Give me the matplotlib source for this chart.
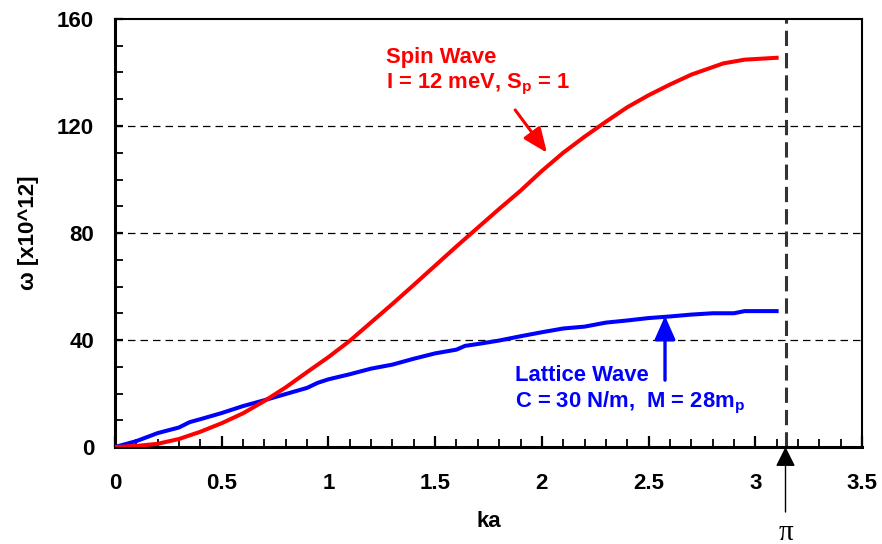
import numpy as np
import matplotlib
matplotlib.use("Agg")
import matplotlib.pyplot as plt
from matplotlib.ticker import MultipleLocator

plt.rcParams['font.family'] = ['Liberation Sans', 'DejaVu Sans']
plt.rcParams['font.weight'] = 'bold'
plt.rcParams['mathtext.fontset'] = 'custom'
plt.rcParams['mathtext.rm'] = 'Liberation Sans:bold'
plt.rcParams['mathtext.bf'] = 'Liberation Sans:bold'

# ---- data ----
spin_ka = [0, 0.1, 0.2, 0.3, 0.4, 0.5, 0.6, 0.7, 0.8, 0.9, 1.0, 1.1, 1.2, 1.3,
           1.4, 1.5, 1.6, 1.7, 1.8, 1.9, 2.0, 2.1, 2.2, 2.3, 2.4, 2.5, 2.6,
           2.7, 2.85, 2.95, 3.1]
spin_w = [0, 0.4, 1.2, 3.0, 5.7, 8.9, 12.6, 17.2, 22.3, 28.0, 33.6, 39.7,
          46.6, 53.5, 60.6, 67.8, 75.0, 82.0, 89.0, 95.8, 103.2, 110.0,
          116.0, 121.6, 127.0, 131.5, 135.5, 139.2, 143.4, 144.8, 145.5]

latt_ka = [0, 0.1, 0.2, 0.3, 0.35, 0.4, 0.5, 0.6, 0.7, 0.8, 0.9, 0.95, 1.0,
           1.1, 1.2, 1.3, 1.4, 1.5, 1.6, 1.64, 1.7, 1.8, 1.9, 2.0, 2.1, 2.2,
           2.3, 2.4, 2.5, 2.6, 2.7, 2.8, 2.9, 2.95, 3.1]
latt_w = [0, 2.2, 5.2, 7.3, 9.3, 10.4, 12.7, 15.3, 17.5, 19.8, 22.1, 24.0,
          25.3, 27.2, 29.3, 30.8, 33.0, 35.0, 36.4, 37.8, 38.5, 39.8, 41.4,
          42.9, 44.3, 45.0, 46.5, 47.3, 48.2, 48.8, 49.5, 50.0, 50.0, 50.8,
          50.8]

xticks = [0, 0.5, 1, 1.5, 2, 2.5, 3, 3.5]
xticklabels = ['0', '0.5', '1', '1.5', '2', '2.5', '3', '3.5']
yticks = [0, 40, 80, 120, 160]
yticklabels = ['0', '40', '80', '120', '160']
pi_pos = np.pi

fig = plt.figure(figsize=(8.82, 5.44), dpi=100)
ax = fig.add_axes([115/882, 1-447/544, (862-115)/882, (447-19)/544])

ax.set_xlim(0, 3.5)
ax.set_ylim(0, 160)

for y in [40, 80, 120]:
    ax.axhline(y, color='black', lw=0.9, ls=(0, (6, 4)), zorder=1)

ax.axvline(pi_pos, color='#333333', lw=2.2, ls=(0, (5, 2.3)), zorder=2,
           clip_on=False)

ax.plot(spin_ka, spin_w, color='#ff0000', lw=2.9, zorder=4)
ax.plot(latt_ka, latt_w, color='#0000ff', lw=2.9, zorder=3)

ax.set_xticks(xticks)
ax.set_xticklabels(xticklabels)
ax.set_yticks(yticks)
ax.set_yticklabels(yticklabels)
ax.xaxis.set_minor_locator(MultipleLocator(0.1))
ax.yaxis.set_minor_locator(MultipleLocator(10))

ax.tick_params(axis='x', which='major', direction='in', length=8, width=1.6,
               labelsize=16, pad=19)
ax.tick_params(axis='x', which='minor', direction='in', length=5.5, width=1.3)
ax.tick_params(axis='y', which='major', direction='in', length=6, width=1.6,
               labelsize=16, pad=15)
ax.tick_params(axis='y', which='minor', direction='in', length=6, width=1.3)

for s in ['left', 'bottom']:
    ax.spines[s].set_linewidth(2.2)
for s in ['top', 'right']:
    ax.spines[s].set_linewidth(1.5)

ax.set_xlabel('ka', fontsize=16, fontweight='bold', labelpad=12)
ax.set_ylabel('ω [x10^12]', fontsize=16, fontweight='bold', labelpad=13)

# Spin wave annotation
ax.text(1.27, 145.5, 'Spin Wave', color='#ff0000', fontsize=15.8,
        fontweight='bold', ha='left', va='center')
ax.text(1.27, 135.5, r'I = 12 meV, S$_\mathregular{p}$ = 1', color='#ff0000',
        fontsize=15.8, fontweight='bold', ha='left', va='center')
ax.annotate('', xy=(2.024, 110.0), xytext=(1.875, 126.0),
            arrowprops=dict(arrowstyle='-|>,head_length=1.0,head_width=0.42',
                            mutation_scale=15, color='#ff0000', lw=2.2,
                            shrinkA=0, shrinkB=0))

# Lattice wave annotation
ax.text(1.875, 26.8, 'Lattice Wave', color='#0000ff', fontsize=15.8,
        fontweight='bold', ha='left', va='center')
ax.text(1.875, 16.5, r'C = 30 N/m,  M = 28m$_\mathregular{p}$',
        color='#0000ff', fontsize=15.8, fontweight='bold', ha='left',
        va='center')
ax.annotate('', xy=(2.577, 49.0), xytext=(2.577, 25.0),
            arrowprops=dict(arrowstyle='-|>,head_length=0.95,head_width=0.42',
                            mutation_scale=15, color='#0000ff', lw=2.4,
                            shrinkA=0, shrinkB=0))

# pi marker below the axis
ax.annotate('', xy=(pi_pos, 0), xytext=(pi_pos, -0.152),
            xycoords=('data', 'axes fraction'),
            textcoords=('data', 'axes fraction'),
            arrowprops=dict(arrowstyle='-|>,head_length=1.0,head_width=0.5',
                            mutation_scale=12, color='black', lw=1.0,
                            shrinkA=0, shrinkB=0),
            annotation_clip=False)
ax.text(pi_pos, -0.2, 'π', transform=ax.get_xaxis_transform(),
        fontsize=21, fontweight='normal', ha='center', va='center',
        family=['Liberation Serif', 'DejaVu Serif'])

fig.savefig('out.png', dpi=100)
